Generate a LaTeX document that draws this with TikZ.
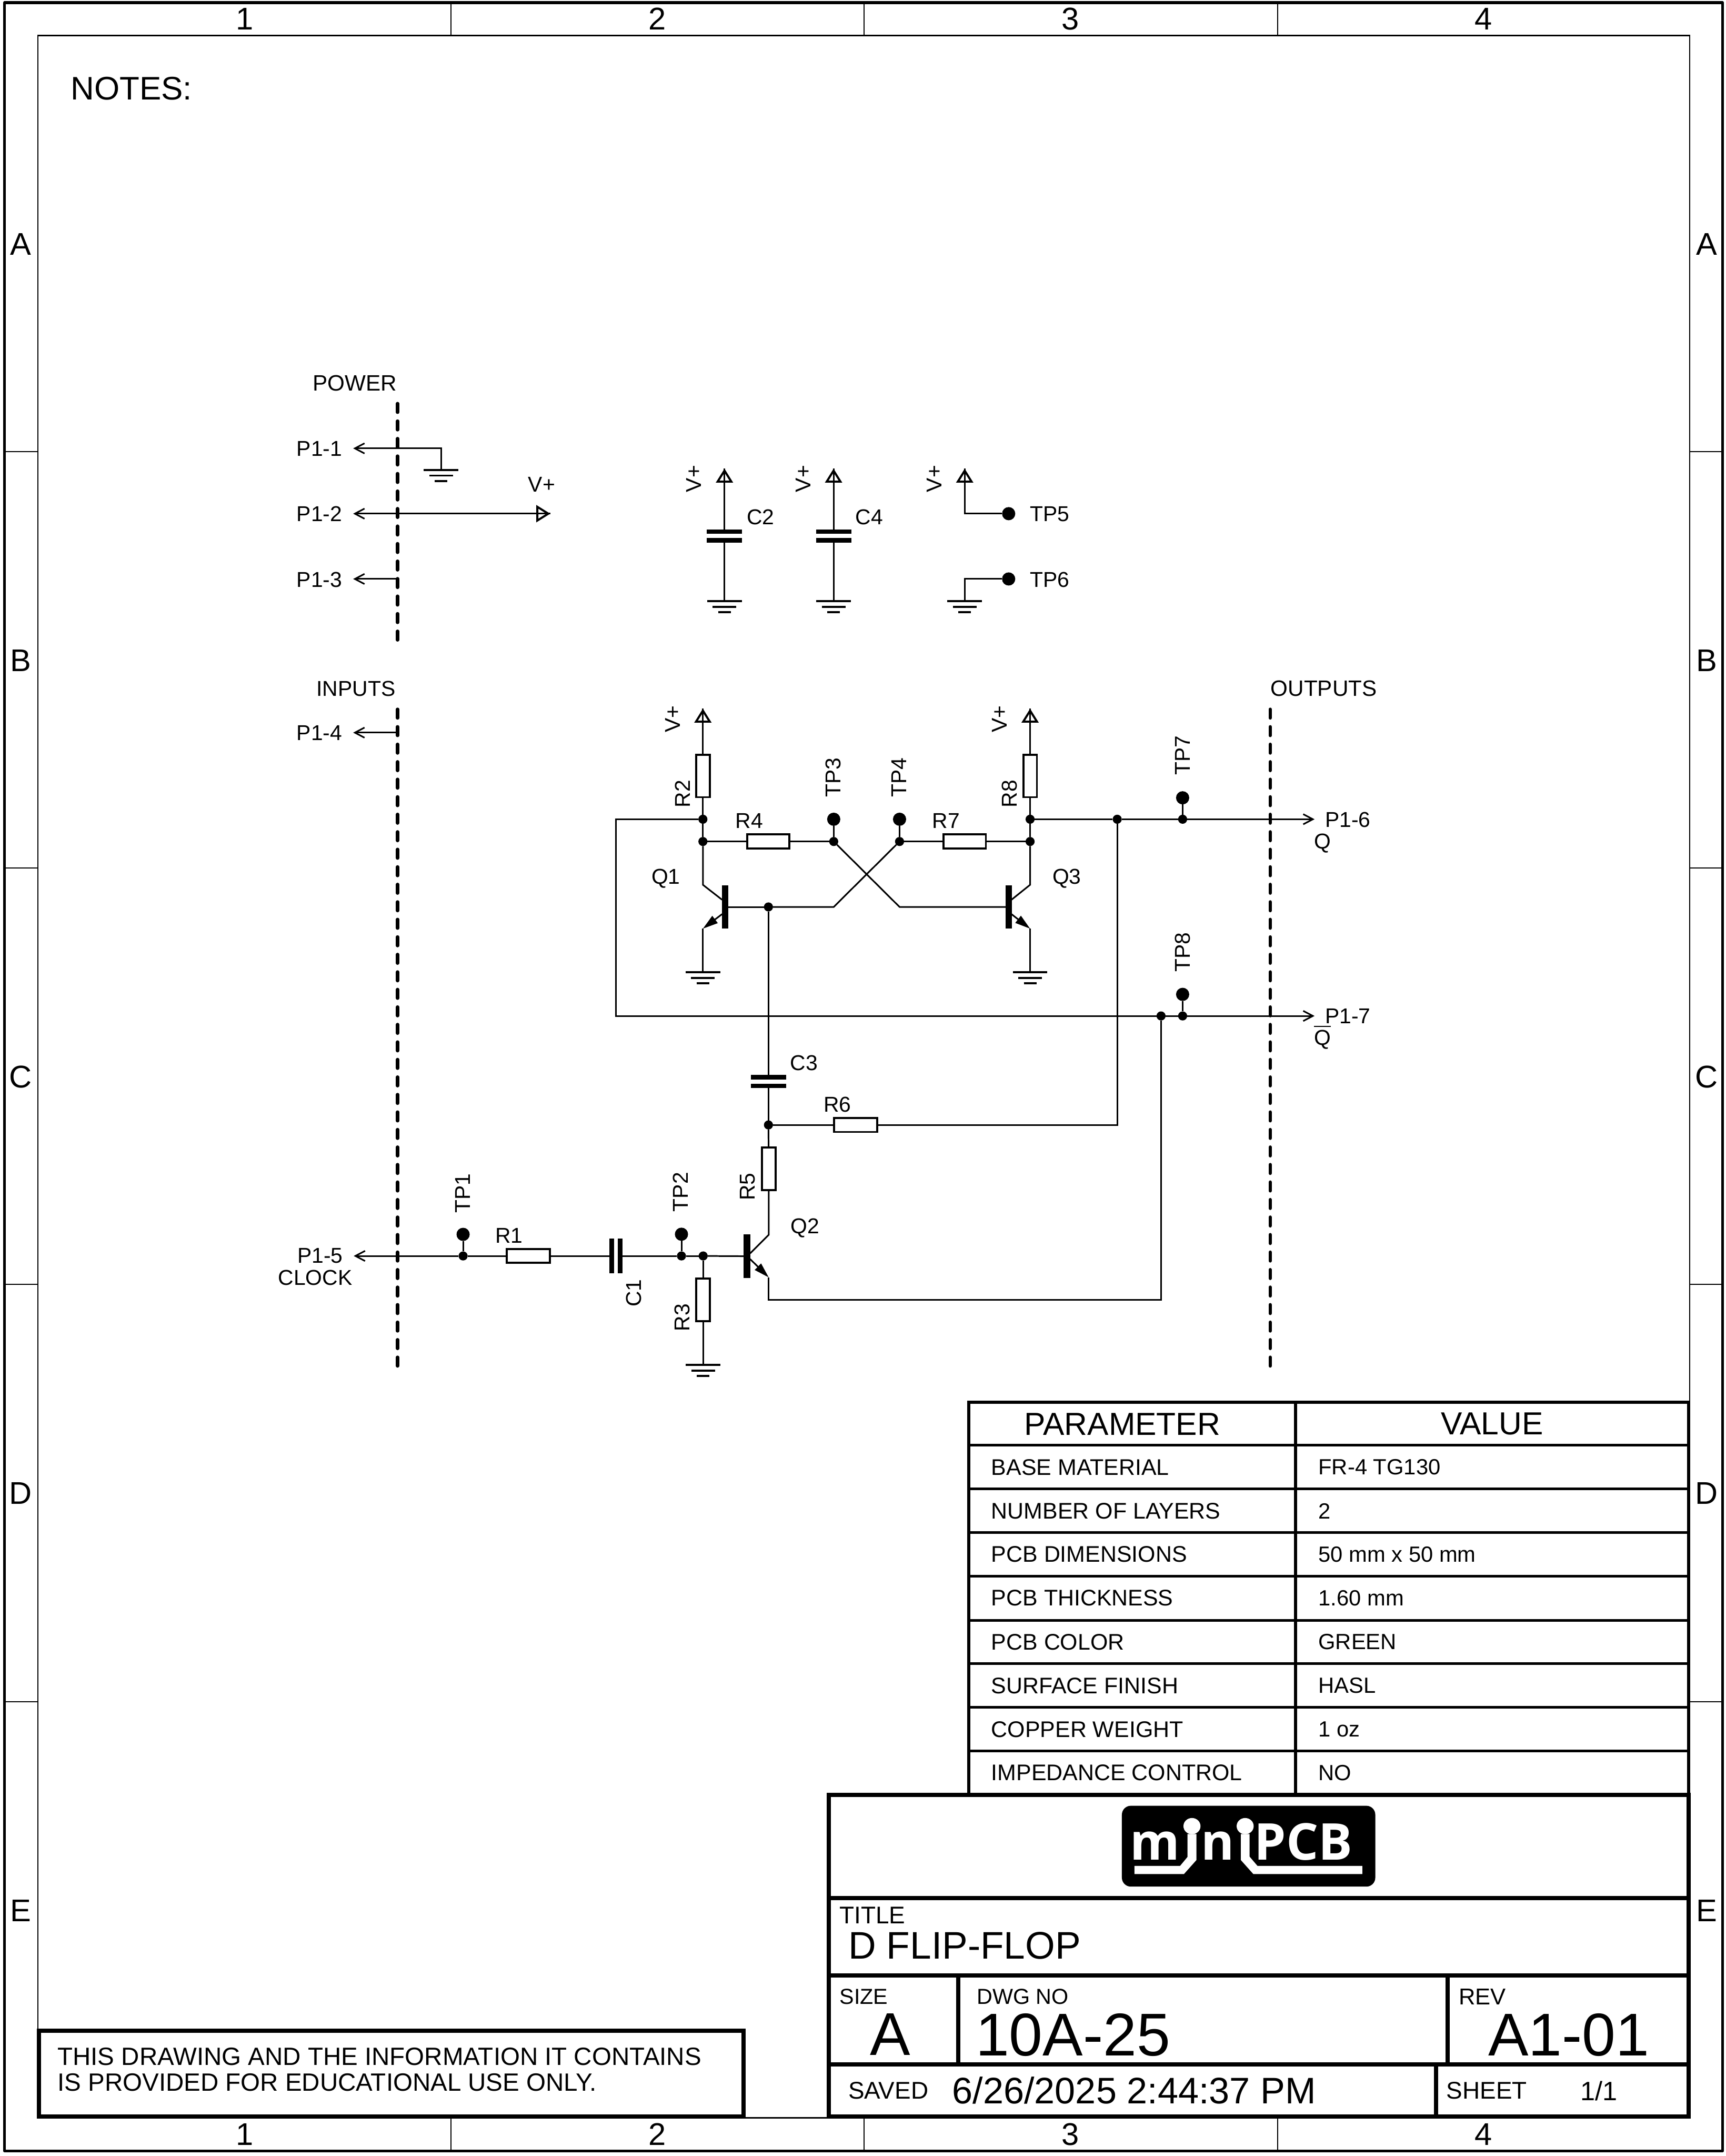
\documentclass[tikz,border=0pt]{standalone}
\usepackage{fontspec}
\setmainfont{Liberation Sans}
\newfontfamily\logofont{Open Sans}
\usepackage{tikz}
\usetikzlibrary{arrows.meta}
\tikzstyle{every node}=[inner sep=0pt,outer sep=0pt]
\tikzstyle{wire}=[line width=0.65pt]
\tikzstyle{outarr}=[-{Straight Barb[length=4pt,width=4.2pt]}]
\tikzstyle{emit}=[-{Triangle[length=6.3pt,width=3.6pt]}]
\tikzstyle{boxline}=[line width=0.85pt]
\tikzstyle{gndline}=[line width=0.85pt]
\tikzstyle{bus}=[line width=1.4pt,line cap=round,dash pattern=on 3.6pt off 3.65pt]
\tikzstyle{heavy}=[line width=1.7pt]
\tikzstyle{tabline}=[line width=1.05pt]
\tikzstyle{tick}=[line width=0.45pt]
\tikzstyle{junc}=[circle,fill=black,minimum size=1.32mm]
\tikzstyle{tpoint}=[circle,fill=black,minimum size=1.92mm]
\tikzstyle{resv}=[draw,boxline,minimum width=1.98mm,minimum height=6.18mm]
\tikzstyle{resh}=[draw,boxline,minimum width=6.18mm,minimum height=2.04mm]
\tikzstyle{platev}=[fill=black,minimum width=5.12mm,minimum height=0.64mm]
\tikzstyle{plateh}=[fill=black,minimum width=0.68mm,minimum height=5.1mm]
\tikzstyle{qbar}=[fill=black,minimum width=0.92mm,minimum height=6.34mm]
\tikzstyle{lbl}=[font=\fontsize{8.9}{10}\selectfont]
\tikzstyle{zone}=[font=\fontsize{13}{15}\selectfont]
\tikzstyle{tabtxt}=[font=\fontsize{9.35}{11}\selectfont]
\tikzstyle{tabval}=[font=\fontsize{9.1}{11}\selectfont]
\tikzstyle{tabhead}=[font=\fontsize{13.2}{15}\selectfont]
\tikzstyle{small}=[font=\fontsize{9}{11}\selectfont,anchor=west]
\tikzstyle{big}=[font=\fontsize{25}{28}\selectfont]
\tikzstyle{logotxt}=[font=\logofont\bfseries\fontsize{21}{24}\selectfont,text=white,anchor=base west]
\tikzset{
 gnd/.pic={
  \draw [gndline] (-12.6,0) -- (12.6,0);
  \draw [gndline] (-8.6,4) -- (8.6,4);
  \draw [gndline] (-4.6,8) -- (4.6,8);
 },
 vtip/.pic={
  \draw [boxline] (0,1.5) -- (-5,9.5) -- (5,9.5) -- cycle;
 }
}
\begin{document}
\begin{tikzpicture}[x=0.2mm,y=-0.2mm]
 \useasboundingbox (0,0) rectangle (1256,1568.5);

 \draw [line width=1.2pt,line join=round] (3.3,1.9) rectangle (1253.5,1564.8);
 \draw [line width=0.6pt] (27.6,25.8) rectangle (1229.6,1540.6);
 \foreach \x in {328,628.7,929.6} {
  \draw [tick] (\x,1.9) -- (\x,25.8);
  \draw [tick] (\x,1540.6) -- (\x,1564.8);
 }
 \foreach \y in {328.5,631.5,934.5,1238} {
  \draw [tick] (3.3,\y) -- (27.6,\y);
  \draw [tick] (1229.6,\y) -- (1253.5,\y);
 }
 \foreach \x/\t in {178/1,478.3/2,778.8/3,1079.6/4} {
  \node [zone] (top\t) at (\x,13.8) {\t};
  \node [zone] (bot\t) at (\x,1552.8) {\t};
 }
 \foreach \y/\t in {177.5/A,480.5/B,783.5/C,1086.2/D,1389.9/E} {
  \node [zone] (lft\t) at (15,\y) {\t};
  \node [zone] (rgt\t) at (1242,\y) {\t};
 }
 \node [font=\fontsize{13.5}{16}\selectfont,anchor=west] (notes) at (51.5,64.5) {NOTES:};

 \node [lbl,font=\fontsize{9.2}{11}\selectfont] (power) at (258.3,278.8) {POWER};
 \node [lbl] (inputs) at (259,501) {INPUTS};
 \node [lbl,font=\fontsize{9.2}{11}\selectfont] (outputs) at (963.3,501) {OUTPUTS};
 \coordinate (busa) at (289.3,293.6);
 \coordinate (busb) at (289.3,470);
 \coordinate (busc) at (289.3,516);
 \coordinate (busd) at (289.3,994.2);
 \coordinate (buse) at (924.3,516);
 \coordinate (busf) at (924.3,994.2);
 \draw [bus] (busa) -- (busb);
 \draw [bus] (busc) -- (busd);
 \draw [bus] (buse) -- (busf);

 \node [lbl] (p11) at (232.4,326.4) {P1-1};
 \node [lbl] (p12) at (232.4,373.9) {P1-2};
 \node [lbl] (p13) at (232.4,421.6) {P1-3};
 \node [lbl] (p14) at (232.4,533.2) {P1-4};
 \node [lbl] (p15) at (233,913.7) {P1-5};
 \node [lbl] (clock) at (229.4,929.6) {CLOCK};
 \node [lbl] (p16) at (980.9,596.5) {P1-6};
 \node [lbl] (p17) at (980.9,739.3) {P1-7};
 \node [lbl,anchor=base] (qout) at (962.3,617.6) {Q};
 \node [lbl,anchor=base] (qbarout) at (962.3,760.2) {$\overline{\mbox{Q}}$};
 \coordinate (a1) at (257,326.2);
 \coordinate (a2) at (257,373.7);
 \coordinate (a3) at (257,421.2);
 \coordinate (a4) at (257,533);
 \coordinate (a3r) at (289.3,421.2);
 \coordinate (a4r) at (289.3,533);
 \coordinate (g1) at (321,342);
 \coordinate (vout) at (400.5,373.7);
 \draw [wire,outarr] (g1) |- (a1);
 \draw [wire,outarr] (vout) -- (a2);
 \draw [wire,outarr] (a3r) -- (a3);
 \draw [wire,outarr] (a4r) -- (a4);
 \pic at (g1) {gnd};
 \pic [rotate=-90] at (vout) {vtip};
 \node [lbl] (vlab) at (394.2,352.6) {V+};

 \coordinate (vc2) at (527.2,340.9);
 \coordinate (vc4) at (606.6,340.9);
 \coordinate (vt5) at (702,340.9);
 \coordinate (g2) at (527.2,437.4);
 \coordinate (g4) at (606.6,437.4);
 \coordinate (g6) at (702,437.4);
 \node [platev] (c2a) at (527.2,386.75) {};
 \node [platev] (c2b) at (527.2,393.05) {};
 \node [platev] (c4a) at (606.6,386.75) {};
 \node [platev] (c4b) at (606.6,393.05) {};
 \node [tpoint] (tp5) at (734,373.7) {};
 \node [tpoint] (tp6) at (734,421.2) {};
 \draw [wire] (vc2) -- (c2a);
 \draw [wire] (c2b) -- (g2);
 \draw [wire] (vc4) -- (c4a);
 \draw [wire] (c4b) -- (g4);
 \draw [wire] (vt5) |- (tp5);
 \draw [wire] (g6) |- (tp6);
 \pic at (vc2) {vtip};
 \pic at (vc4) {vtip};
 \pic at (vt5) {vtip};
 \pic at (g2) {gnd};
 \pic at (g4) {gnd};
 \pic at (g6) {gnd};
 \node [lbl,rotate=90] (vc2lab) at (505,348.3) {V+};
 \node [lbl,rotate=90] (vc4lab) at (584.5,348.3) {V+};
 \node [lbl,rotate=90] (vt5lab) at (680,348.3) {V+};
 \node [lbl] (c2lab) at (553.5,376.4) {C2};
 \node [lbl] (c4lab) at (632.6,376.4) {C4};
 \node [lbl] (tp5lab) at (764,373.9) {TP5};
 \node [lbl] (tp6lab) at (764,421.6) {TP6};

 \coordinate (vr2) at (511.5,515.5);
 \coordinate (vr8) at (749.6,515.5);
 \node [resv] (r2) at (511.5,564.5) {};
 \node [resv] (r8) at (749.6,564.5) {};
 \node [junc] (ja) at (511.5,596) {};
 \node [junc] (jb) at (511.5,612.2) {};
 \node [resh,minimum width=6.16mm] (r4) at (559,612.2) {};
 \node [junc] (jc) at (606.7,612.2) {};
 \node [tpoint] (tp3) at (606.7,596) {};
 \node [junc] (jd) at (654.6,612.2) {};
 \node [tpoint] (tp4) at (654.6,596) {};
 \node [resh,minimum width=6.16mm] (r7) at (702,612.2) {};
 \node [junc] (je) at (749.6,612.2) {};
 \node [junc] (jf) at (749.6,596) {};
 \node [junc] (ji) at (813,596) {};
 \node [junc] (jk) at (860.6,596) {};
 \node [tpoint] (tp7) at (860.6,580.4) {};
 \node [junc] (jg) at (844.9,739.1) {};
 \node [junc] (jh) at (860.6,739.1) {};
 \node [tpoint] (tp8) at (860.6,723.4) {};
 \node [qbar] (q1) at (527.8,659.8) {};
 \node [qbar] (q3) at (734,659.8) {};
 \node [junc] (jq) at (559.2,659.8) {};
 \coordinate (k1) at (606.7,659.8);
 \coordinate (k3) at (654.6,659.8);
 \coordinate (q1c) at (511.5,643.7);
 \coordinate (q1e) at (511.5,675.6);
 \coordinate (q1cb) at (525.5,654.6);
 \coordinate (q1eb) at (525.5,665);
 \coordinate (q3c) at (749.6,643.7);
 \coordinate (q3e) at (749.6,675.6);
 \coordinate (q3cb) at (736,654.6);
 \coordinate (q3eb) at (736,665);
 \coordinate (g7) at (511.5,707.4);
 \coordinate (g8) at (749.6,707.4);
 \coordinate (lfa) at (448.4,596);
 \coordinate (lfb) at (448.4,739.1);
 \coordinate (o1) at (956.6,596);
 \coordinate (o2) at (956.6,739.1);
 \draw [wire] (vr2) -- (r2);
 \draw [wire] (r2) -- (ja);
 \draw [wire] (ja) -- (jb);
 \draw [wire] (jb) -- (q1c) -- (q1cb);
 \draw [wire] (jb) -- (r4);
 \draw [wire] (r4) -- (jc);
 \draw [wire] (jc) -- (tp3);
 \draw [wire] (jd) -- (tp4);
 \draw [wire] (jd) -- (r7);
 \draw [wire] (r7) -- (je);
 \draw [wire] (vr8) -- (r8);
 \draw [wire] (r8) -- (jf);
 \draw [wire] (jf) -- (je);
 \draw [wire] (je) -- (q3c) -- (q3cb);
 \draw [wire] (q1) -- (jq);
 \draw [wire] (jq) -- (k1) -- (jd);
 \draw [wire] (q3) -- (k3) -- (jc);
 \draw [wire,emit] (q1eb) -- (q1e);
 \draw [wire,emit] (q3eb) -- (q3e);
 \draw [wire] (q1e) -- (g7);
 \draw [wire] (q3e) -- (g8);
 \draw [wire] (ja) -- (lfa) -- (lfb) -- (jg);
 \draw [wire] (jg) -- (jh);
 \draw [wire,outarr] (jh) -- (o2);
 \draw [wire] (jf) -- (ji);
 \draw [wire] (ji) -- (jk);
 \draw [wire,outarr] (jk) -- (o1);
 \draw [wire] (jk) -- (tp7);
 \draw [wire] (jh) -- (tp8);
 \pic at (vr2) {vtip};
 \pic at (vr8) {vtip};
 \pic at (g7) {gnd};
 \pic at (g8) {gnd};
 \node [lbl,rotate=90] (vr2lab) at (489.5,523) {V+};
 \node [lbl,rotate=90] (vr8lab) at (727.5,523) {V+};
 \node [lbl,rotate=90] (r2lab) at (496.6,577.6) {R2};
 \node [lbl,rotate=90] (r8lab) at (734.7,577.6) {R8};
 \node [lbl] (r4lab) at (545.3,597.3) {R4};
 \node [lbl] (r7lab) at (688.5,597.3) {R7};
 \node [lbl,rotate=90] (tp3lab) at (606.4,565.6) {TP3};
 \node [lbl,rotate=90] (tp4lab) at (654.4,565.6) {TP4};
 \node [lbl,rotate=90] (tp7lab) at (860.7,549.7) {TP7};
 \node [lbl,rotate=90] (tp8lab) at (860.7,692.7) {TP8};
 \node [lbl] (q1lab) at (484.5,639.3) {Q1};
 \node [lbl] (q3lab) at (776.3,639.3) {Q3};

 \node [platev] (c3a) at (559.2,783.7) {};
 \node [platev] (c3b) at (559.2,790) {};
 \node [junc] (jm) at (559.2,818.4) {};
 \node [resh,minimum width=6.26mm] (r6) at (622.6,818.4) {};
 \node [resv,minimum height=6.24mm] (r5) at (559.4,850.3) {};
 \node [qbar,minimum width=0.98mm,minimum height=6.4mm] (q2) at (543.5,913.9) {};
 \node [tpoint] (tp1) at (337,898) {};
 \node [junc] (jt1) at (337,913.7) {};
 \node [resh,minimum width=6.24mm] (r1) at (384.5,913.7) {};
 \node [plateh] (c1a) at (445,913.7) {};
 \node [plateh] (c1b) at (451.4,913.7) {};
 \node [tpoint] (tp2) at (495.9,897.9) {};
 \node [junc] (jt2) at (495.9,913.7) {};
 \node [junc] (jr) at (511.7,913.7) {};
 \node [resv,minimum height=6.24mm] (r3) at (511.7,945.6) {};
 \coordinate (a5) at (257.4,913.7);
 \coordinate (q2c) at (559.4,898.3);
 \coordinate (q2cb) at (545.9,911.8);
 \coordinate (q2e) at (559.4,929.3);
 \coordinate (q2eb) at (545.9,916);
 \coordinate (q2r) at (559.4,945.5);
 \coordinate (q2s) at (844.9,945.5);
 \coordinate (r6t) at (813,818.4);
 \coordinate (g3) at (511.7,993.1);
 \draw [wire] (jq) -- (c3a);
 \draw [wire] (c3b) -- (jm);
 \draw [wire] (jm) -- (r6);
 \draw [wire] (r6) -- (r6t) -- (ji);
 \draw [wire] (jm) -- (r5);
 \draw [wire] (r5) -- (q2c) -- (q2cb);
 \draw [wire,emit] (q2eb) -- (q2e);
 \draw [wire] (q2e) -- (q2r) -- (q2s) -- (jg);
 \draw [wire,outarr] (jt1) -- (a5);
 \draw [wire] (tp1) -- (jt1);
 \draw [wire] (jt1) -- (r1);
 \draw [wire] (r1) -- (c1a);
 \draw [wire] (c1b) -- (jt2);
 \draw [wire] (tp2) -- (jt2);
 \draw [wire] (jt2) -- (jr);
 \draw [wire] (jr) -- (q2);
 \draw [wire] (jr) -- (r3);
 \draw [wire] (r3) -- (g3);
 \pic at (g3) {gnd};
 \node [lbl] (c3lab) at (585.1,773.4) {C3};
 \node [lbl] (r6lab) at (609.3,803.4) {R6};
 \node [lbl,rotate=90] (r5lab) at (544,863.4) {R5};
 \node [lbl] (q2lab) at (585.8,893.6) {Q2};
 \node [lbl,rotate=90] (tp1lab) at (336.6,868.2) {TP1};
 \node [lbl,rotate=90] (tp2lab) at (495.4,867.2) {TP2};
 \node [lbl] (r1lab) at (370.5,898.9) {R1};
 \node [lbl,rotate=90] (c1lab) at (461.3,940.7) {C1};
 \node [lbl,rotate=90] (r3lab) at (496.5,958.6) {R3};

 \draw [heavy] (28.3,1477.2) rectangle (541.1,1539.7);
 \node [font=\fontsize{10.35}{12}\selectfont,anchor=west] (note1) at (41.9,1496.2) {THIS DRAWING AND THE INFORMATION IT CONTAINS};
 \node [font=\fontsize{10.35}{12}\selectfont,anchor=west] (note2) at (41.9,1515) {IS PROVIDED FOR EDUCATIONAL USE ONLY.};

 \foreach \y in {1051.4,1083.2,1115,1146.7,1178.7,1210.1,1241.9,1273.7}
  \draw [tabline] (705.1,\y) -- (1228.9,\y);
 \draw [line width=1.3pt] (705.1,1305.7) -- (705.1,1020) -- (1228.9,1020) -- (1228.9,1305.7);
 \draw [line width=1.3pt] (942.7,1020) -- (942.7,1305.7);
 \node [tabhead] (parhead) at (816.7,1036) {PARAMETER};
 \node [tabhead] (valhead) at (1085.8,1036) {VALUE};
 \foreach \y/\p/\v [count=\i] in {1067.4/BASE MATERIAL/FR-4 TG130,1099.2/NUMBER OF LAYERS/2,1130.7/PCB DIMENSIONS/50 mm x 50 mm,1162.5/PCB THICKNESS/1.60 mm,1194.5/PCB COLOR/GREEN,1226.3/SURFACE FINISH/HASL,1258.1/COPPER WEIGHT/1 oz,1289.7/IMPEDANCE CONTROL/NO} {
  \node [tabtxt,anchor=west] (par\i) at (721.4,\y) {\p};
  \node [tabval,anchor=west] (val\i) at (959.4,\y) {\v};
 }

 \draw [heavy,fill=white] (603,1305.7) rectangle (1228.8,1539.7);
 \draw [heavy] (603,1380.8) -- (1228.8,1380.8);
 \draw [heavy] (603,1437) -- (1228.8,1437);
 \draw [heavy] (603,1502) -- (1228.8,1502);
 \draw [heavy] (697.4,1437) -- (697.4,1502);
 \draw [heavy] (1053.5,1437) -- (1053.5,1502);
 \draw [heavy] (1045,1502) -- (1045,1539.7);
 \node [font=\fontsize{10}{12}\selectfont,anchor=west] (titlelab) at (611,1393.4) {TITLE};
 \node [font=\fontsize{15.9}{18}\selectfont,anchor=west] (title) at (617.3,1415.4) {D FLIP-FLOP};
 \node [small] (sizelab) at (611,1452.7) {SIZE};
 \node [big] (size) at (647.7,1480) {A};
 \node [small] (dwglab) at (710.9,1452.7) {DWG NO};
 \node [big,anchor=west] (dwg) at (710,1480.4) {10A-25};
 \node [small,font=\fontsize{9.5}{11}\selectfont] (revlab) at (1061.5,1452.7) {REV};
 \node [big,anchor=west] (rev) at (1083,1480.4) {A1-01};
 \node [font=\fontsize{10}{12}\selectfont,anchor=west] (savedlab) at (617.3,1521) {SAVED};
 \node [font=\fontsize{15.3}{18}\selectfont,anchor=west] (saved) at (693,1520.6) {6/26/2025 2:44:37 PM};
 \node [font=\fontsize{10}{12}\selectfont,anchor=west] (sheetlab) at (1052.6,1521) {SHEET};
 \node [font=\fontsize{11}{13}\selectfont] (sheet) at (1163.4,1521) {1/1};

 \fill [rounded corners=3.7pt] (816.4,1313.7) rectangle (1000.8,1372.5);
 \fill [white] (825.5,1357.4) -- (858.8,1357.4) -- (864.1,1351) -- (864.1,1334.3) -- (870.6,1334.3) -- (870.6,1353.2) -- (861.5,1363.4) -- (825.5,1363.4) -- cycle;
 \fill [white] (903,1334.3) -- (909.3,1334.3) -- (909.3,1350.7) -- (915,1357.4) -- (991.4,1357.4) -- (991.4,1363.4) -- (912.1,1363.4) -- (903,1353.2) -- cycle;
 \fill [white] (867.4,1328.5) ellipse (6.2 and 5.9);
 \fill [white] (906.1,1328.5) ellipse (6.2 and 5.9);
 \node [logotxt] (logom) at (822.5,1353.2) {m};
 \node [logotxt] (logon) at (874,1353.2) {n};
 \node [logotxt] (logopcb) at (912.7,1353.2) {PCB};
\end{tikzpicture}
\end{document}
